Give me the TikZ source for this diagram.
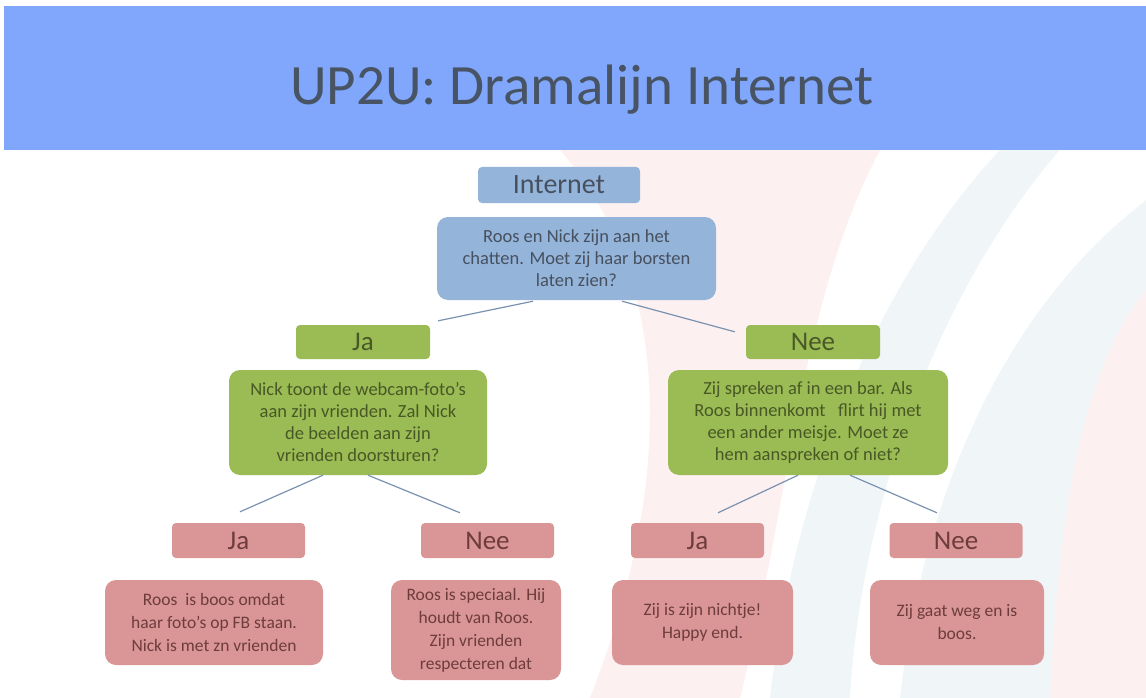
\documentclass[tikz,border=0pt]{standalone}
\usepackage{fontspec}
\setmainfont{Carlito}
\usepackage{xcolor}
\usepackage{tikz}
\usetikzlibrary{positioning, arrows.meta}

\definecolor{banner}{RGB}{128,167,252}
\definecolor{titlecol}{RGB}{72,84,100}
\definecolor{boxblue}{RGB}{149,180,218}
\definecolor{boxgreen}{RGB}{155,188,84}
\definecolor{boxpink}{RGB}{218,150,150}
\definecolor{txtblue}{RGB}{70,80,95}
\definecolor{txtgreen}{RGB}{72,88,38}
\definecolor{txtpink}{RGB}{110,60,60}
\definecolor{linecol}{RGB}{122,146,176}
\definecolor{tintpink}{RGB}{253,240,240}
\definecolor{tintblue}{RGB}{240,245,247}

\tikzset{
  tag/.style={rounded corners=4pt, minimum width=134pt, minimum height=34pt,
    inner sep=2pt, font=\fontsize{27}{28}\selectfont},
  qbox/.style={rounded corners=11pt, align=center, inner sep=4pt,
    font=\fontsize{18.5}{22}\selectfont},
  link/.style={draw=linecol, line width=1.2pt}
}

\begin{document}
\begin{tikzpicture}[x=1pt, y=-1pt]
  \useasboundingbox (0,0) rectangle (1146,698);
  \fill[white] (0,0) rectangle (1146,698);

  % soft background swirl
  \fill[tintpink] (560,150) .. controls (690,300) and (660,520) .. (590,698)
        -- (740,698) .. controls (790,500) and (800,300) .. (880,150) -- cycle;
  \fill[tintblue] (1000,150) .. controls (860,300) and (790,520) .. (770,698)
        -- (1146,698) -- (1146,150) -- cycle;
  \fill[white] (1060,150) .. controls (930,300) and (860,520) .. (850,698)
        -- (900,698) .. controls (920,520) and (990,320) .. (1146,200) -- (1146,150) -- cycle;
  \fill[tintpink] (1146,290) .. controls (1090,360) and (1060,480) .. (1050,698)
        -- (1146,698) -- cycle;

  % title bar
  \fill[banner] (4,6) rectangle (1146,150);
  \node[text=titlecol, font=\fontsize{57}{62}\selectfont] (title) at (582,90)
        {UP2U: Dramalijn Internet};

  % top
  \node[tag, fill=boxblue, text=txtblue, minimum width=162pt, minimum height=36pt,
        font=\fontsize{28}{30}\selectfont]
        (internet) at (559,185) {Internet};
  \node[qbox, fill=boxblue, text=txtblue, minimum width=279pt, minimum height=83pt]
        (root) at (576.5,258.5)
        {Roos en Nick zijn aan het\\chatten. Moet zij haar borsten\\laten zien?};

  % second level
  \node[tag, fill=boxgreen, text=txtgreen] (jaL) at (363,342) {Ja};
  \node[tag, fill=boxgreen, text=txtgreen] (neeR) at (813,342) {Nee};
  \node[qbox, fill=boxgreen, text=txtgreen, minimum width=258pt, minimum height=105pt]
        (qL) at (358,422.5)
        {Nick toont de webcam-foto's\\aan zijn vrienden. Zal Nick\\de beelden aan zijn\\vrienden doorsturen?};
  \node[qbox, fill=boxgreen, text=txtgreen, minimum width=280pt, minimum height=105pt]
        (qR) at (808,422.5)
        {Zij spreken af in een bar. Als\\Roos binnenkomt \ \ flirt hij met\\een ander meisje. Moet ze\\hem aanspreken of niet?};

  % third level
  \node[tag, fill=boxpink, text=txtpink, minimum width=133pt, minimum height=35pt]
        (jaLL) at (238.5,540.5) {Ja};
  \node[tag, fill=boxpink, text=txtpink, minimum width=133pt, minimum height=35pt]
        (neeLR) at (487.5,540.5) {Nee};
  \node[tag, fill=boxpink, text=txtpink, minimum width=133pt, minimum height=35pt]
        (jaRL) at (697.5,540.5) {Ja};
  \node[tag, fill=boxpink, text=txtpink, minimum width=133pt, minimum height=35pt]
        (neeRR) at (956,540.5) {Nee};

  \node[qbox, fill=boxpink, text=txtpink, minimum width=218pt, minimum height=85pt,
        font=\fontsize{17.5}{23}\selectfont]
        (endA) at (214,622.5)
        {Roos \ is boos omdat\\haar foto's op FB staan.\\Nick is met zn vrienden};
  \node[qbox, fill=boxpink, text=txtpink, minimum width=170pt, minimum height=100pt,
        font=\fontsize{17.5}{23}\selectfont]
        (endB) at (476,630)
        {Roos is speciaal. Hij\\houdt van Roos.\\Zijn vrienden\\respecteren dat};
  \node[qbox, fill=boxpink, text=txtpink, minimum width=181pt, minimum height=85pt,
        font=\fontsize{17.5}{23}\selectfont]
        (endC) at (702.5,622.5)
        {Zij is zijn nichtje!\\Happy end.};
  \node[qbox, fill=boxpink, text=txtpink, minimum width=174pt, minimum height=85pt,
        font=\fontsize{17.5}{23}\selectfont]
        (endD) at (957,622.5)
        {Zij gaat weg en is\\boos.};

  % free ends of the connectors
  \coordinate (tipJaL) at ([xshift=8pt, yshift=4pt]jaL.north east);
  \coordinate (tipNeeR) at ([xshift=-11pt, yshift=-7pt]neeR.north west);
  \coordinate (tipJaLL) at ([xshift=1.5pt, yshift=11pt]jaLL.north);
  \coordinate (tipNeeLR) at ([xshift=-27.5pt, yshift=10pt]neeLR.north);
  \coordinate (tipJaRL) at ([xshift=20.5pt, yshift=10pt]jaRL.north);
  \coordinate (tipNeeRR) at ([xshift=-19pt, yshift=10pt]neeRR.north);

  \draw[link] ([xshift=-43.5pt, yshift=-1pt]root.south) -- (tipJaL);
  \draw[link] ([xshift=45.5pt, yshift=-1pt]root.south) -- (tipNeeR);
  \draw[link] ([xshift=-35pt]qL.south) -- (tipJaLL);
  \draw[link] ([xshift=10pt]qL.south) -- (tipNeeLR);
  \draw[link] ([xshift=-10pt]qR.south) -- (tipJaRL);
  \draw[link] ([xshift=42pt]qR.south) -- (tipNeeRR);

\end{tikzpicture}
\end{document}
